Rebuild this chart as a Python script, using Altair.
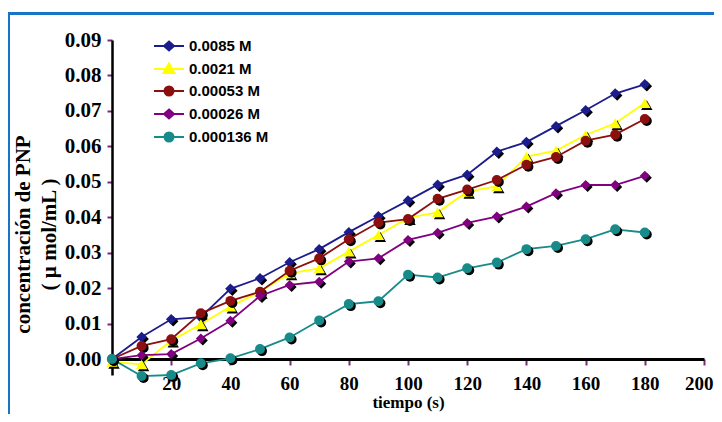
import altair as alt
import pandas as pd

# ---- data ----
tiempo = [0, 10, 20, 30, 40, 50, 60, 70, 80, 90, 100, 110, 120, 130, 140, 150, 160, 170, 180]
series_names = ["0.0085 M", "0.0021 M", "0.00053 M", "0.00026 M", "0.000136 M"]

c_0085 = [0, 0.0062, 0.0112, 0.0118, 0.0198, 0.0228, 0.0273, 0.0310, 0.0358, 0.0403,
          0.0447, 0.0492, 0.0520, 0.0585, 0.0612, 0.0657, 0.0702, 0.0749, 0.0775]
c_0021 = [-0.0008, -0.0015, 0.0052, 0.0098, 0.0148, 0.0190, 0.0242, 0.0256, 0.0303, 0.0350,
          0.0398, 0.0414, 0.0472, 0.0487, 0.0571, 0.0588, 0.0632, 0.0665, 0.0722]
c_00053 = [0, 0.0037, 0.0056, 0.0129, 0.0164, 0.0190, 0.0249, 0.0284, 0.0338, 0.0385,
           0.0395, 0.0452, 0.0478, 0.0505, 0.0548, 0.0570, 0.0616, 0.0633, 0.0677]
c_00026 = [0, 0.0011, 0.0014, 0.0058, 0.0108, 0.0178, 0.0209, 0.0218, 0.0275, 0.0284,
           0.0336, 0.0356, 0.0384, 0.0402, 0.0430, 0.0468, 0.0491, 0.0491, 0.0517]
c_000136 = [0, -0.0048, -0.0045, -0.0012, 0.0002, 0.0028, 0.0061, 0.0109, 0.0155, 0.0163,
            0.0238, 0.0230, 0.0256, 0.0272, 0.0310, 0.0319, 0.0338, 0.0366, 0.0357]

y_ticks = [0.0, 0.01, 0.02, 0.03, 0.04, 0.05, 0.06, 0.07, 0.08, 0.09]
x_ticks = [20, 40, 60, 80, 100, 120, 140, 160, 180, 200]

# ---- styles ----
colors = ["#1c1c8c", "#ffff00", "#8b0f0f", "#800080", "#178a8a"]
marker_shapes = ["diamond", "triangle-up", "circle", "diamond", "circle"]
marker_sizes = [110, 130, 100, 100, 100]
legend_paths = [
    "M-1.5,0H1.5M0,-0.45L0.5,0L0,0.45L-0.5,0Z",
    "M-1.5,0H1.5M0,-0.55L0.55,0.4L-0.55,0.4Z",
    "M-1.5,0H1.5M-0.45,0A0.45,0.45,0,1,0,0.45,0A0.45,0.45,0,1,0,-0.45,0Z",
    "M-1.5,0H1.5M0,-0.45L0.5,0L0,0.45L-0.5,0Z",
    "M-1.5,0H1.5M-0.45,0A0.45,0.45,0,1,0,0.45,0A0.45,0.45,0,1,0,-0.45,0Z",
]

values_by_series = [c_0085, c_0021, c_00053, c_00026, c_000136]
rows = []
for name, vals in zip(series_names, values_by_series):
    for t, v in zip(tiempo, vals):
        rows.append({"t": t, "c": v, "serie": name})
df = pd.DataFrame(rows)

SERIF = "Liberation Serif"
SANS = "Liberation Sans"
TICK_COLOR = "#7a2a7a"

X = alt.X(
    "t:Q",
    scale=alt.Scale(domain=[0, 200], nice=False, zero=False),
    axis=alt.Axis(
        values=x_ticks, title="tiempo (s)", offset=-16, grid=False,
        domainColor="black", domainWidth=3, tickColor=TICK_COLOR, tickWidth=2, tickSize=6,
        labelFont=SERIF, labelFontSize=19, labelFontWeight="bold", labelColor="black",
        labelPadding=9, labelFlush=True, labelFlushOffset=9,
        titleFont=SERIF, titleFontSize=17, titleFontWeight="bold", titleColor="black",
        titleY=52, titleBaseline="bottom",
    ),
)
Y = alt.Y(
    "c:Q",
    scale=alt.Scale(domain=[-0.0045, 0.09], nice=False, zero=False),
    axis=alt.Axis(
        values=y_ticks, format=".2f", grid=False,
        title=["concentración de PNP", "( µ mol/mL )"],
        domainColor="black", domainWidth=2.5, tickColor=TICK_COLOR, tickWidth=2, tickSize=5,
        labelFont=SERIF, labelFontSize=21, labelFontWeight="bold", labelColor="black",
        labelPadding=6,
        titleFont=SERIF, titleFontSize=21, titleFontWeight="bold", titleColor="black",
        titleAngle=-90, titleX=-83, titleY=194, titleAlign="center",
        titleBaseline="alphabetic", titleLineHeight=26,
    ),
)

layers = []
for name, shape, size, col in zip(series_names, marker_shapes, marker_sizes, colors):
    base = alt.Chart(df).transform_filter(alt.datum.serie == name)
    line = base.mark_line(strokeWidth=1.8, color=col).encode(x=X, y=Y)
    shadow = base.mark_point(
        filled=True, shape=shape, size=size, color="black", opacity=1, xOffset=2, yOffset=2
    ).encode(x=X, y=Y)
    marker = base.mark_point(
        filled=True, shape=shape, size=size, color=col, opacity=1
    ).encode(x=X, y=Y)
    layers += [line, shadow, marker]

col_scale = alt.Scale(domain=series_names, range=colors)
leg_props = dict(
    orient="none", legendX=46, legendY=-5, title=None, padding=0,
    labelFont=SANS, labelFontSize=15, labelFontWeight="bold", labelColor="black",
    labelOffset=9, rowPadding=3, symbolSize=400, symbolStrokeWidth=2,
)
# legend-only layer (draws no marks in the plot)
legend_layer = alt.Chart(df).transform_filter("false").mark_point(
    filled=True, opacity=1, strokeWidth=2, size=400
).encode(
    x=X, y=Y,
    fill=alt.Fill("serie:N", scale=col_scale, legend=alt.Legend(**leg_props)),
    stroke=alt.Stroke("serie:N", scale=col_scale, legend=alt.Legend(**leg_props)),
    shape=alt.Shape("serie:N", scale=alt.Scale(domain=series_names, range=legend_paths),
                    legend=alt.Legend(**leg_props)),
)

# decorative blue frame of the original figure
frame_df = pd.DataFrame({"k": [0]})
frame_top = alt.Chart(frame_df).mark_rule(color="#1874c6", strokeWidth=3).encode(
    x=alt.value(-104), x2=alt.value(620), y=alt.value(-26.5)
)
frame_left = alt.Chart(frame_df).mark_rule(color="#1874c6", strokeWidth=3).encode(
    x=alt.value(-103.5), y=alt.value(-28), y2=alt.value(400)
)

chart = alt.layer(frame_top, frame_left, *layers, legend_layer).properties(
    width=592, height=335,
    padding={"left": 104, "top": 32, "right": 10, "bottom": 39},
    autosize=alt.AutoSizeParams(type="none"),
    background="white",
).configure_view(stroke=None)

chart.save("out.html", embed_options={"renderer": "svg", "actions": False})
